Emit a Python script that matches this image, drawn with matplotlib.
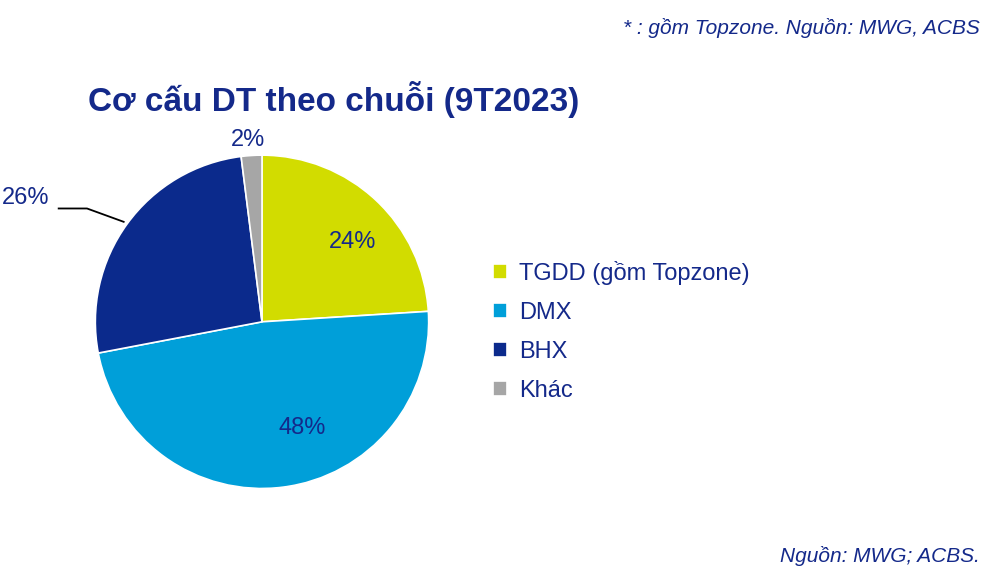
import matplotlib

matplotlib.use("Agg")
import matplotlib.pyplot as plt

labels = ["TGDD (gồm Topzone)", "DMX", "BHX", "Khác"]
shares = [24, 48, 26, 2]
colors = ["#d2dc00", "#009fd9", "#0b2a8c", "#a6a6a6"]
text_blue = "#14298a"

plt.rcParams["font.family"] = ["Liberation Sans", "DejaVu Sans"]

fig = plt.figure(figsize=(10, 5.83), dpi=100)
ax = fig.add_axes([0.262 - 0.17, 0.448 - 0.17 * 1000 / 583, 0.34, 0.34 * 1000 / 583])
wedges, _ = ax.pie(shares, colors=colors, startangle=90, counterclock=False,
                   wedgeprops=dict(edgecolor="white", linewidth=1.2))
ax.set_xlim(-1.02, 1.02)
ax.set_ylim(-1.02, 1.02)
ax.set_aspect("equal")
ax.axis("off")

# percentage labels
ax.text(0.545, 0.48, f"{shares[0]}%", ha="center", va="center", fontsize=17, color=text_blue)
ax.text(0.24, -0.64, f"{shares[1]}%", ha="center", va="center", fontsize=17, color=text_blue)
ax.text(-1.42, 0.74, f"{shares[2]}%", ha="center", va="center", fontsize=17, color=text_blue, clip_on=False)
ax.plot([-1.22, -1.05, -0.83], [0.68, 0.68, 0.60], color="black", lw=1.3, clip_on=False)
ax.text(-0.085, 1.09, f"{shares[3]}%", ha="center", va="center", fontsize=17, color=text_blue, clip_on=False)

leg = fig.legend(wedges, labels, loc="upper left", bbox_to_anchor=(0.472, 1 - 240 / 583),
                 frameon=False, fontsize=17, handlelength=0.6, handleheight=0.6,
                 handletextpad=0.5, labelspacing=0.72)
for t in leg.get_texts():
    t.set_color(text_blue)

fig.text(0.088, 1 - 100 / 583, "Cơ cấu DT theo chuỗi (9T2023)", fontsize=24,
         fontweight="bold", color=text_blue, va="center", ha="left")
fig.text(0.98, 1 - 28 / 583, "* : gồm Topzone. Nguồn: MWG, ACBS", fontsize=15,
         style="italic", color=text_blue, ha="right", va="center")
fig.text(0.98, 1 - 556 / 583, "Nguồn: MWG; ACBS.", fontsize=15,
         style="italic", color=text_blue, ha="right", va="center")

fig.savefig("out.png", dpi=100)
